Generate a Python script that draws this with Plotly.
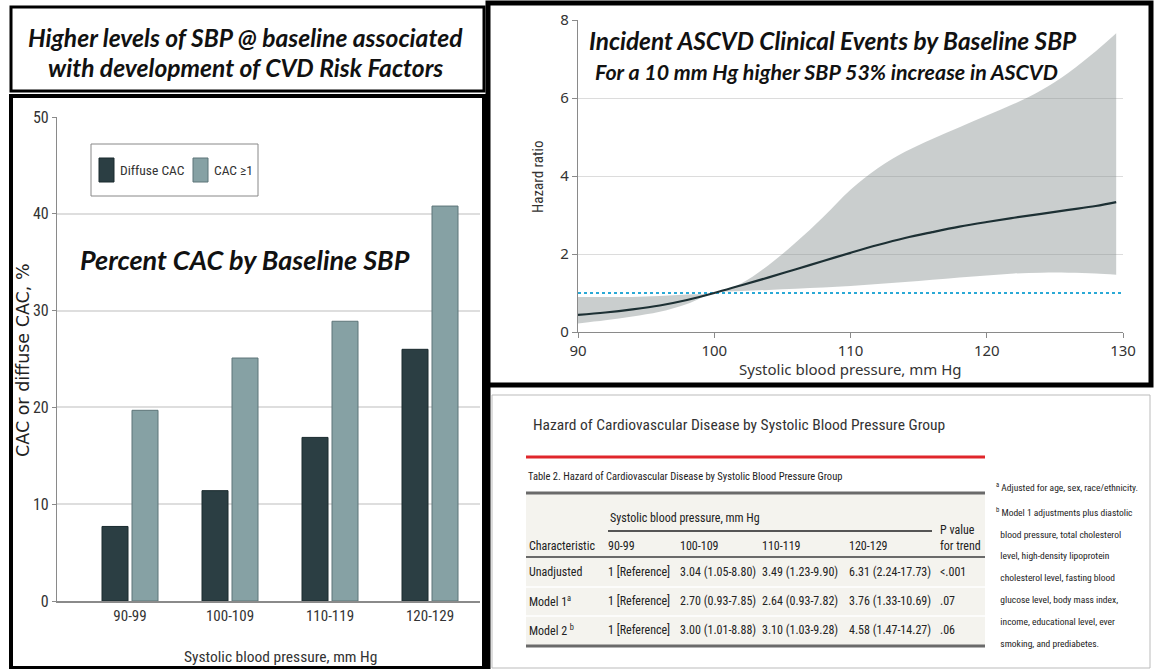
import plotly.graph_objects as go

# ---------------- data ----------------
SBP_GROUPS = ["90-99", "100-109", "110-119", "120-129"]
DIFFUSE_CAC = [7.7, 11.4, 16.9, 26.0]
CAC_GE1 = [19.7, 25.1, 28.9, 40.8]

SBP_X = [90, 92, 94, 96, 98, 100, 102, 104, 106, 108, 110, 112, 114, 116, 118, 120, 122, 124, 126, 128, 129.5]
HR = [0.44, 0.50, 0.58, 0.68, 0.82, 1.00, 1.20, 1.40, 1.61, 1.82, 2.03, 2.23, 2.41, 2.56, 2.70, 2.82, 2.93, 3.03, 3.13, 3.23, 3.33]
HR_UPPER = [0.90, 0.90, 0.90, 0.92, 0.96, 1.00, 1.25, 1.72, 2.30, 2.95, 3.65, 4.20, 4.62, 4.95, 5.25, 5.55, 5.85, 6.20, 6.65, 7.20, 7.66]
HR_LOWER = [0.22, 0.30, 0.40, 0.52, 0.72, 1.00, 1.05, 1.08, 1.11, 1.14, 1.18, 1.23, 1.28, 1.34, 1.40, 1.45, 1.50, 1.52, 1.52, 1.50, 1.47]
REF_HR = 1.0
HR_XRANGE = [90, 130]
HR_TICKS = [90, 100, 110, 120, 130]

TABLE_CHARS = ["Unadjusted", "Model 1<sup>a</sup>", "Model 2 <sup>b</sup>"]
ROW_UNADJ = ["1 [Reference]", "3.04 (1.05-8.80)", "3.49 (1.23-9.90)", "6.31 (2.24-17.73)"]
ROW_MODEL1 = ["1 [Reference]", "2.70 (0.93-7.85)", "2.64 (0.93-7.82)", "3.76 (1.33-10.69)"]
ROW_MODEL2 = ["1 [Reference]", "3.00 (1.01-8.88)", "3.10 (1.03-9.28)", "4.58 (1.47-14.27)"]
P_TREND = ["&lt;.001", ".07", ".06"]
FOOTNOTES = [
    "<sup>a</sup> Adjusted for age, sex, race/ethnicity.",
    "<sup>b</sup> Model 1 adjustments plus diastolic",
    "  blood pressure, total cholesterol",
    "  level, high-density lipoprotein",
    "  cholesterol level, fasting blood",
    "  glucose level, body mass index,",
    "  income, educational level, ever",
    "  smoking, and prediabetes.",
]

# ---------------- layout helpers ----------------
W, H = 1154, 669
def px(x):
    return x / W
def py(y):
    return 1 - y / H

COND = "Roboto Condensed, DejaVu Sans Condensed, sans-serif"
HUMAN = "Noto Sans, Open Sans, sans-serif"
CAL = "Lato, Carlito, Calibri, sans-serif"

fig = go.Figure()

# ---------------- bar chart ----------------
fig.add_trace(go.Bar(x=SBP_GROUPS, y=DIFFUSE_CAC, name="Diffuse CAC",
                     marker=dict(color="#2b3e43", line=dict(color="#1a2a2e", width=1)),
                     width=0.26, offset=-0.28, xaxis="x", yaxis="y", showlegend=False))
fig.add_trace(go.Bar(x=SBP_GROUPS, y=CAC_GE1, name="CAC ≥1",
                     marker=dict(color="#86a1a4", line=dict(color="#5d7579", width=1)),
                     width=0.26, offset=0.02, xaxis="x", yaxis="y", showlegend=False))

# ---------------- hazard chart ----------------
fig.add_trace(go.Scatter(x=SBP_X, y=HR_LOWER, mode="lines", line=dict(width=0, shape="spline"),
                         xaxis="x2", yaxis="y2", showlegend=False, hoverinfo="skip"))
fig.add_trace(go.Scatter(x=SBP_X, y=HR_UPPER, mode="lines", line=dict(width=0, shape="spline"),
                         fill="tonexty", fillcolor="rgba(128,138,138,0.42)",
                         xaxis="x2", yaxis="y2", showlegend=False, hoverinfo="skip"))
fig.add_trace(go.Scatter(x=HR_XRANGE, y=[REF_HR, REF_HR], mode="lines",
                         line=dict(color="#2aa9d6", width=2, dash="dot"),
                         xaxis="x2", yaxis="y2", showlegend=False))
fig.add_trace(go.Scatter(x=SBP_X, y=HR, mode="lines", line=dict(color="#1d3034", width=2.2, shape="spline"),
                         xaxis="x2", yaxis="y2", showlegend=False, name="Hazard ratio"))

fig.update_layout(
    width=W, height=H, margin=dict(l=0, r=0, t=0, b=0, autoexpand=False),
    paper_bgcolor="white", plot_bgcolor="white",
    xaxis=dict(domain=[px(57), px(480)], type="category", categoryarray=SBP_GROUPS,
               range=[-0.73, 3.5], showline=True, linecolor="#8a8a8a", linewidth=1.5,
               ticks="", showgrid=False, automargin=False,
               tickfont=dict(family=COND, size=15, color="#333"), anchor="y"),
    yaxis=dict(domain=[py(601), py(117)], range=[0, 50], dtick=10, showline=True,
               linecolor="#8a8a8a", linewidth=1.2, ticks="outside", ticklen=4, tickcolor="#8a8a8a",
               showgrid=True, gridcolor="#dedede", gridwidth=1.5, zeroline=False, automargin=False,
               tickfont=dict(family=COND, size=16, color="#333"), anchor="x"),
    xaxis2=dict(domain=[px(578), px(1123)], range=HR_XRANGE, tickvals=HR_TICKS,
                showline=True, linecolor="#8a8a8a", linewidth=1.2, ticks="outside", ticklen=5,
                tickcolor="#8a8a8a", showgrid=False, zeroline=False, automargin=False,
                tickfont=dict(family=HUMAN, size=15, color="#333"), anchor="y2"),
    yaxis2=dict(domain=[py(332), py(20)], range=[0, 8], dtick=2, showline=True,
                linecolor="#8a8a8a", linewidth=1.2, ticks="outside", ticklen=5, tickcolor="#8a8a8a",
                showgrid=True, gridcolor="#dcdcdc", gridwidth=1.2, zeroline=False, automargin=False,
                tickfont=dict(family=HUMAN, size=15, color="#333"), anchor="x2"),
)

shapes = []
ann = []

def rect(x0, y0, x1, y1, color="black", width=3, fill=None, layer="above"):
    shapes.append(dict(type="rect", xref="paper", yref="paper", x0=px(x0), x1=px(x1), y0=py(y0), y1=py(y1),
                       line=dict(color=color, width=width), fillcolor=fill, layer=layer))

def hline(x0, x1, y, color, width):
    shapes.append(dict(type="line", xref="paper", yref="paper", x0=px(x0), x1=px(x1), y0=py(y), y1=py(y),
                       line=dict(color=color, width=width)))

def text(x, y, t, family, size, color="#111", xanchor="left", bold=False, italic=False, angle=0):
    ann.append(dict(xref="paper", yref="paper", x=px(x), y=py(y), text=t, showarrow=False,
                    xanchor=xanchor, yanchor="middle", textangle=angle,
                    font=dict(family=family, size=size, color=color,
                              weight="bold" if bold else "normal", style="italic" if italic else "normal")))

# panel borders
rect(11, 7, 484, 91, width=3)
rect(11, 96, 484, 668, width=4)
rect(488, 3, 1151, 385, width=5)
shapes.append(dict(type="line", xref="paper", yref="paper", x0=px(488), x1=px(488), y0=py(385), y1=0,
                   line=dict(color="black", width=5)))
rect(492, 395, 1150, 668, color="#bbbbbb", width=1)

# top-left title
text(245, 38, "Higher levels of SBP @ baseline associated", CAL, 24.6, bold=True, italic=True, xanchor="center")
text(245, 67, "with development of CVD Risk Factors", CAL, 24.6, bold=True, italic=True, xanchor="center")

# bar chart overlays: axis titles, title, legend
text(23, 360, "CAC or diffuse CAC, %", "DejaVu Sans, Verdana, sans-serif", 17.5, color="#222", xanchor="center", angle=-90)
text(280, 657, "Systolic blood pressure, mm Hg", COND, 15.5, color="#333", xanchor="center")
text(245, 259, "Percent CAC by Baseline SBP", CAL, 27, bold=True, italic=True, xanchor="center")
rect(91, 144, 258, 196, color="#888888", width=1)
rect(99, 158, 114, 182, color="#1a2a2e", width=1, fill="#2b3e43")
rect(193, 158, 208, 182, color="#5d7579", width=1, fill="#86a1a4")
text(118, 170, "Diffuse CAC", COND, 13.5, color="#333")
text(212, 170, "CAC ≥1", COND, 13.5, color="#333")

# hazard chart titles
text(833, 40, "Incident ASCVD Clinical Events by Baseline SBP", CAL, 24.4, bold=True, italic=True, xanchor="center")
text(826, 72, "For a 10 mm Hg higher SBP 53% increase in ASCVD", CAL, 21.4, bold=True, italic=True, xanchor="center")
text(538, 177, "Hazard ratio", COND, 15, color="#333", xanchor="center", angle=-90)
text(850, 369, "Systolic blood pressure, mm Hg", HUMAN, 15, color="#333", xanchor="center")

# table panel
text(739, 425, "Hazard of Cardiovascular Disease by Systolic Blood Pressure Group", COND, 15.5, color="#333", xanchor="center")
hline(526, 985, 457, "#e0262b", 3)
text(526, 477, "Table 2. Hazard of Cardiovascular Disease by Systolic Blood Pressure Group", COND, 10.5, color="#222")
rect(526, 493, 985, 646, color="rgba(0,0,0,0)", width=0, fill="#f4f3ee", layer="below")
hline(526, 985, 493, "#6a6a6a", 3)
FS = 12
text(608, 518, "Systolic blood pressure, mm Hg", COND, FS, color="#222")
hline(608, 932, 531, "#555555", 2)
text(938, 530, "P value", COND, FS, color="#222")
text(938, 546, "for trend", COND, FS, color="#222")
text(527, 546, "Characteristic", COND, FS, color="#222")
col_x = [606, 678, 760, 847]
for cx, g in zip(col_x, SBP_GROUPS):
    text(cx, 546, g, COND, FS, color="#222")
hline(526, 985, 557, "#6a6a6a", 2)
row_y = [572, 601, 630]
rows = [ROW_UNADJ, ROW_MODEL1, ROW_MODEL2]
for ry, lab, vals, p in zip(row_y, TABLE_CHARS, rows, P_TREND):
    text(527, ry, lab, COND, FS, color="#222")
    for cx, v in zip(col_x, vals):
        text(cx, ry, v, COND, FS, color="#222")
    text(938, ry, p, COND, FS, color="#222")
hline(526, 985, 587, "#ffffff", 1.5)
hline(526, 985, 616, "#ffffff", 1.5)
hline(526, 985, 646, "#6a6a6a", 3)

# footnotes
fy = [487, 512, 534, 555, 577, 599, 621, 643]
for y, t in zip(fy, FOOTNOTES):
    text(994, y, t, COND, 9.5, color="#222")

fig.update_layout(shapes=shapes, annotations=ann)
fig.write_html("out.html", config={"displayModeBar": False},
               post_script="document.body.style.margin='0px';document.body.style.overflow='hidden';")
